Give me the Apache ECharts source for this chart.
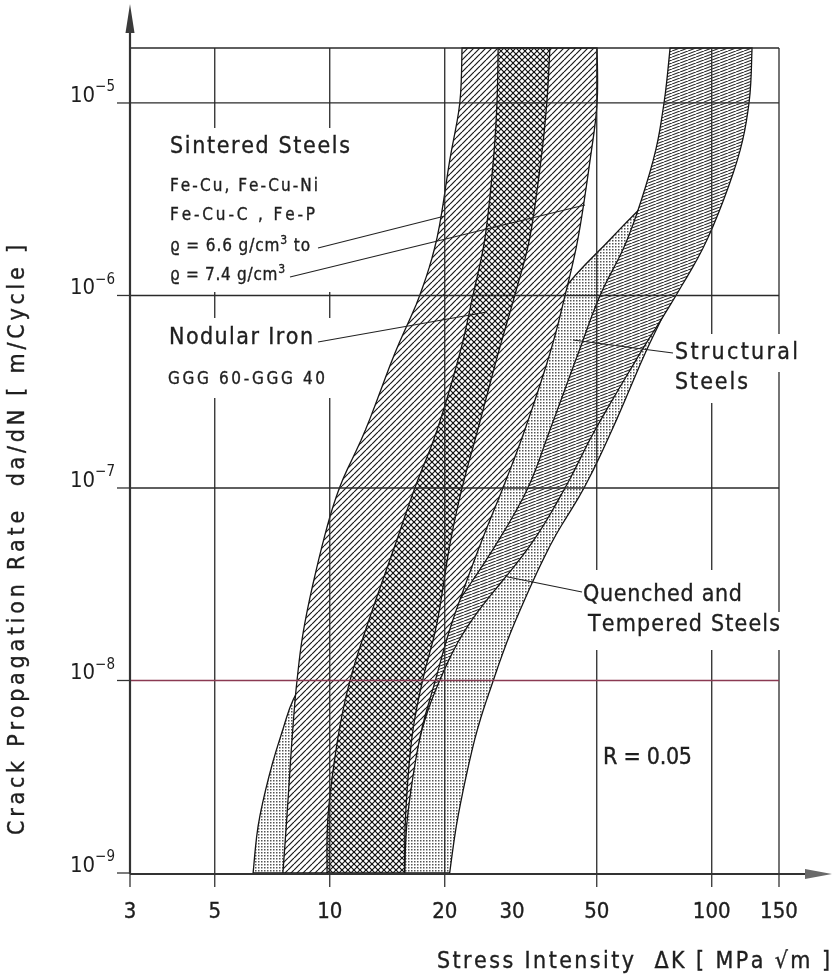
<!DOCTYPE html>
<html><head><meta charset="utf-8">
<script src="https://cdn.jsdelivr.net/npm/echarts@6/dist/echarts.min.js"></script>
<style>html,body{margin:0;padding:0;background:#fff}#c{width:832px;height:979px}</style>
</head><body><div id="c"></div>
<script>
function hasFont(name) {
  const c = document.createElement('canvas').getContext('2d');
  const s = 'mmmmmmmmmmlli1WQ@#';
  c.font = '40px monospace'; const a = c.measureText(s).width;
  c.font = '40px "' + name + '", monospace'; const b = c.measureText(s).width;
  return Math.abs(a - b) > 0.5;
}
const NARROW_OK = hasFont('Liberation Sans Narrow');
const FONT = NARROW_OK ? '"Liberation Sans Narrow",sans-serif' : '"DejaVu Sans Condensed","DejaVu Sans",sans-serif';
const K = NARROW_OK ? 1 : 0.9;   // size factor for the fallback font
const fs = (s) => Math.round(s * K);

const X_MIN = 3, X_MAX = 150;
const Y_MIN = 1e-9, Y_MAX = 1.93e-5;

// axis ticks
const xTicks = [3, 5, 10, 20, 30, 50, 100, 150];
const xTickLabels = ['3', '5', '10', '20', '30', '50', '100', '150'];
const xTickMarks = [3, 5, 10, 20, 50, 100, 150];
const xGrid = [5, 10, 20, 50, 100, 150];
const yTicks = [1e-9, 1e-8, 1e-7, 1e-6, 1e-5];
const yTickExp = ['−9', '−8', '−7', '−6', '−5'];
const yGrid = [1e-8, 1e-7, 1e-6, 1e-5, Y_MAX];

// crack growth rate levels (m/cycle) used for the band edges
const RATE = [1e-9, 2e-9, 5e-9, 1e-8, 2e-8, 5e-8, 1e-7, 2e-7, 5e-7, 1e-6, 2e-6, 5e-6, 1e-5, 1.93e-5];
// Sintered steels (ΔK edges, MPa√m)
const sinteredLeft  = [7.54, 7.73, 7.97, 8.21, 8.61, 9.55, 10.6, 12.4, 14.8, 17.2, 19.1, 20.6, 21.9, 22.2];
const sinteredRight = [15.7, 16.0, 17.2, 18.9, 20.9, 24.7, 28.4, 32.4, 37.7, 41.3, 44.7, 48.0, 50.1, 50.1];
// Nodular iron
const nodularLeft  = [9.84, 9.90, 10.5, 11.3, 12.6, 14.8, 16.7, 19.1, 21.9, 23.7, 25.5, 26.8, 27.4, 27.6];
const nodularRight = [15.7, 15.8, 16.4, 17.5, 19.1, 20.6, 22.2, 24.4, 27.6, 30.5, 33.4, 35.7, 37.0, 37.7];
// Structural steels
const structLeft  = [12.4, 12.9, 14.0, 16.2, 20.0, 27.1, 33.0, 37.7, 44.7, 51.0, 60.4, 70.2, 75.0, 77.8];
const structRight = [15.5, 15.8, 17.2, 19.4, 23.3, 33.4, 41.3, 49.5, 64.9, 80.6, 97.8, 116.5, 125.2, 127.5];
// Quenched and tempered steels
const QT_RATE = [1e-9, 2e-9, 5e-9, 1e-8, 2e-8, 5e-8, 1e-7, 2e-7, 5e-7, 1e-6, 2e-6, 3e-6];
const qtLeft  = [6.30, 6.57, 7.41, 8.61, 12.7, 19.4, 27.6, 31.5, 36.6, 40.1, 54.8, 66.9];
const qtRight = [20.6, 21.7, 24.0, 26.8, 30.5, 37.7, 46.3, 54.8, 66.9, 78.7, 87.7, 93.1];

function makePattern(w, h, draw) {
  const c = document.createElement('canvas');
  c.width = w; c.height = h;
  const ctx = c.getContext('2d');
  ctx.fillStyle = '#fff'; ctx.fillRect(0, 0, w, h);
  draw(ctx, w, h);
  return { image: c, repeat: 'repeat' };
}
const hatchPat = makePattern(6, 6, (ctx) => {
  ctx.strokeStyle = '#1a1a1a'; ctx.lineWidth = 1.2;
  for (const x0 of [-6, 0, 6]) { ctx.beginPath(); ctx.moveTo(x0, 6); ctx.lineTo(x0 + 6, 0); ctx.stroke(); }
});
const crossPat = makePattern(6, 6, (ctx) => {
  ctx.strokeStyle = '#111'; ctx.lineWidth = 1.2;
  for (const x0 of [-6, 0, 6]) {
    ctx.beginPath(); ctx.moveTo(x0, 6); ctx.lineTo(x0 + 6, 0); ctx.stroke();
    ctx.beginPath(); ctx.moveTo(x0, 0); ctx.lineTo(x0 + 6, 6); ctx.stroke();
  }
});
const structPat = makePattern(8, 3, (ctx) => {
  ctx.strokeStyle = '#262626'; ctx.lineWidth = 1.1;
  for (const x0 of [-8, 0, 8]) { ctx.beginPath(); ctx.moveTo(x0, 3); ctx.lineTo(x0 + 8, 0); ctx.stroke(); }
});
const dotPat = makePattern(3, 3, (ctx) => {
  ctx.fillStyle = '#555'; ctx.fillRect(0, 0, 1.5, 1.5);
});

// Catmull-Rom smoothing of an edge in pixel space (drawing only)
function smoothPts(p, n) {
  const out = [];
  for (let i = 0; i < p.length - 1; i++) {
    const p0 = p[Math.max(i - 1, 0)], p1 = p[i], p2 = p[i + 1], p3 = p[Math.min(i + 2, p.length - 1)];
    for (let k = 0; k < n; k++) {
      const t = k / n, t2 = t * t, t3 = t2 * t;
      const f = (a, b, c, d) => 0.5 * (2 * b + (-a + c) * t + (2 * a - 5 * b + 4 * c - d) * t2 + (-a + 3 * b - 3 * c + d) * t3);
      out.push([f(p0[0], p1[0], p2[0], p3[0]), f(p0[1], p1[1], p2[1], p3[1])]);
    }
  }
  out.push(p[p.length - 1]);
  return out;
}

function bandSeries(name, rate, left, right, fill, z) {
  return {
    type: 'custom', name, z, silent: true, clip: false,
    coordinateSystem: 'cartesian2d',
    data: [[left[0], rate[0]]],
    renderItem: function (params, api) {
      const L = rate.map((r, i) => api.coord([left[i], r]));
      const R = rate.map((r, i) => api.coord([right[i], r]));
      const pts = smoothPts(L, 6).concat(smoothPts(R, 6).reverse());
      return { type: 'polygon', shape: { points: pts }, style: { fill: fill, stroke: '#151515', lineWidth: 1.3 } };
    }
  };
}

// letter-spaced text (to match the wide technical lettering)
const mctx = document.createElement('canvas').getContext('2d');
function spaced(str, x, y, size, width, opts) {
  size = fs(size);
  const toks = [];
  for (let i = 0; i < str.length; i++) {
    if (str[i] === '^') { toks.push({ c: str[i + 1], s: Math.round(size * 0.72), dy: -size * 0.38 }); i++; }
    else toks.push({ c: str[i], s: size, dy: 0 });
  }
  toks.forEach(t => { mctx.font = t.s + 'px ' + FONT; t.w = mctx.measureText(t.c).width; });
  const nat = toks.reduce((a, t) => a + t.w, 0);
  const gap = toks.length > 1 ? (width - nat) / (toks.length - 1) : 0;
  let cx = 0; const children = [];
  toks.forEach(t => {
    if (t.c !== ' ') children.push({ type: 'text', z: 110, x: cx, y: t.dy,
      style: { text: t.c, font: t.s + 'px ' + FONT, fill: '#1e1e1e', stroke: '#1e1e1e', lineWidth: 0.35,
               align: 'left', verticalAlign: 'middle', textVerticalAlign: 'middle' } });
    cx += t.w + gap;
  });
  return Object.assign({ type: 'group', x, y, z: 110, children }, opts || {});
}

const chart = echarts.init(document.getElementById('c'), null, { renderer: 'canvas' });
const whiteRect = (x, y, w, h) => ({ type: 'rect', z: 100, shape: { x, y, width: w, height: h }, style: { fill: '#fff' } });
const lead = (x1, y1, x2, y2) => ({ type: 'line', z: 110, shape: { x1, y1, x2, y2 }, style: { stroke: '#222', lineWidth: 1.1 } });

chart.setOption({
  animation: false,
  backgroundColor: '#fff',
  grid: { left: 130, right: 53, top: 48, bottom: 106, show: false },
  xAxis: { type: 'log', logBase: 10, min: X_MIN, max: X_MAX,
    axisLine: { show: false }, axisTick: { show: false }, axisLabel: { show: false }, splitLine: { show: false } },
  yAxis: { type: 'log', logBase: 10, min: Y_MIN, max: Y_MAX,
    axisLine: { show: false }, axisTick: { show: false }, axisLabel: { show: false }, splitLine: { show: false } },
  series: [
    bandSeries('Quenched and Tempered Steels', QT_RATE, qtLeft, qtRight, dotPat, 2),
    bandSeries('Structural Steels', RATE, structLeft, structRight, structPat, 3),
    bandSeries('Sintered Steels', RATE, sinteredLeft, sinteredRight, hatchPat, 4),
    bandSeries('Nodular Iron', RATE, nodularLeft, nodularRight, crossPat, 5),
    { // vertical grid lines
      type: 'custom', z: 6, silent: true, clip: false,
      data: xGrid.map(v => [v, Y_MIN]),
      renderItem: (p, api) => {
        const v = api.value(0);
        const a = api.coord([v, Y_MIN]), b = api.coord([v, Y_MAX]);
        return { type: 'line', shape: { x1: a[0], y1: a[1], x2: b[0], y2: b[1] }, style: { stroke: '#2a2a2a', lineWidth: 1.3 } };
      }
    },
    { // horizontal grid lines
      type: 'custom', z: 6, silent: true, clip: false,
      data: yGrid.map(v => [X_MIN, v]),
      renderItem: (p, api) => {
        const v = api.value(1);
        const a = api.coord([X_MIN, v]), b = api.coord([X_MAX, v]);
        const col = Math.abs(Math.log10(v) + 8) < 1e-6 ? '#8a3a52' : '#2a2a2a';
        return { type: 'line', shape: { x1: a[0], y1: a[1], x2: b[0], y2: b[1] }, style: { stroke: col, lineWidth: 1.3 } };
      }
    },
    { // axes with arrows
      type: 'custom', z: 7, silent: true, clip: false,
      data: [[X_MIN, Y_MIN]],
      renderItem: (p, api) => {
        const o = api.coord([X_MIN, Y_MIN]);
        const W = api.getWidth();
        const oy = o[1] + 1;
        return { type: 'group', children: [
          { type: 'line', shape: { x1: o[0], y1: oy, x2: W - 20, y2: oy }, style: { stroke: '#333', lineWidth: 2.2 } },
          { type: 'polygon', shape: { points: [[W - 27, oy - 5], [W, oy], [W - 27, oy + 5]] }, style: { fill: '#6a6a6a' } },
          { type: 'line', shape: { x1: o[0], y1: oy, x2: o[0], y2: 28 }, style: { stroke: '#333', lineWidth: 2.2 } },
          { type: 'polygon', shape: { points: [[o[0] - 4.5, 33], [o[0], 4], [o[0] + 4.5, 33]] }, style: { fill: '#3a3a3a' } }
        ] };
      }
    },
    { // x tick marks
      type: 'custom', z: 7, silent: true, clip: false,
      data: xTickMarks.map(v => [v, Y_MIN]),
      renderItem: (p, api) => {
        const a = api.coord([api.value(0), Y_MIN]);
        return { type: 'line', shape: { x1: a[0], y1: a[1], x2: a[0], y2: a[1] + 14 }, style: { stroke: '#333', lineWidth: 1.3 } };
      }
    },
    { // x tick labels
      type: 'custom', z: 7, silent: true, clip: false,
      data: xTicks.map((v, i) => [v, Y_MIN, i]),
      renderItem: (p, api) => {
        const a = api.coord([api.value(0), Y_MIN]);
        return { type: 'text', x: a[0], y: a[1] + 39,
          style: { text: xTickLabels[api.value(2)], font: fs(24) + 'px ' + FONT, fill: '#1e1e1e', stroke: '#1e1e1e', lineWidth: 0.35,
                   align: 'center', verticalAlign: 'middle' } };
      }
    },
    { // y tick marks and labels
      type: 'custom', z: 7, silent: true, clip: false,
      data: yTicks.map((v, i) => [X_MIN, v, i]),
      renderItem: (p, api) => {
        const a = api.coord([X_MIN, api.value(1)]);
        const i = api.value(2);
        return { type: 'group', children: [
          { type: 'line', shape: { x1: a[0] - 13, y1: a[1], x2: a[0], y2: a[1] }, style: { stroke: '#333', lineWidth: 1.3 } },
          { type: 'text', x: a[0] - 15, y: a[1] + 4,
            style: { text: '{b|10}{s|' + yTickExp[i] + '}', align: 'right', verticalAlign: 'bottom',
              rich: { b: { fontSize: fs(24), fontFamily: FONT, fill: '#1e1e1e', verticalAlign: 'bottom' },
                      s: { fontSize: fs(17), fontFamily: FONT, fill: '#1e1e1e', padding: [0, 0, 12, 0], verticalAlign: 'bottom' } } } }
        ] };
      }
    }
  ],
  graphic: { elements: [
    whiteRect(160, 128, 195, 164),
    whiteRect(160, 318, 175, 80),
    whiteRect(668, 334, 135, 38),
    whiteRect(668, 372, 90, 31),
    whiteRect(576, 570, 172, 42),
    whiteRect(581, 612, 205, 38),
    spaced('Sintered Steels', 170, 147, 26, 180),
    spaced('Fe-Cu, Fe-Cu-Ni', 170, 187, 19, 148),
    spaced('Fe-Cu-C , Fe-P', 170, 216, 19, 145),
    spaced('ϱ = 6.6 g/cm^3 to', 170, 247, 19, 140),
    spaced('ϱ = 7.4 g/cm^3', 170, 276, 19, 115),
    lead(318, 248, 445, 216),
    lead(290, 277, 585, 205),
    spaced('Nodular Iron', 169, 338, 26, 144),
    spaced('GGG 60-GGG 40', 168, 380, 19, 157),
    lead(318, 342, 487, 312),
    spaced('Structural', 675, 353, 26, 123),
    spaced('Steels', 675, 383, 26, 73),
    lead(673, 353, 573, 340),
    spaced('Quenched and', 583, 595, 26, 159),
    spaced('Tempered Steels', 588, 625, 26, 192),
    lead(582, 592, 508, 577),
    spaced('R = 0.05', 603, 758, 26, 89),
    spaced('Crack Propagation Rate  da/dN [ m/Cycle ]', 18, 835, 25, 590, { rotation: Math.PI / 2 }),
    spaced('Stress Intensity  ΔK [ MPa √m ]', 437, 962, 25, 393)
  ] }
});
</script>
</body></html>
